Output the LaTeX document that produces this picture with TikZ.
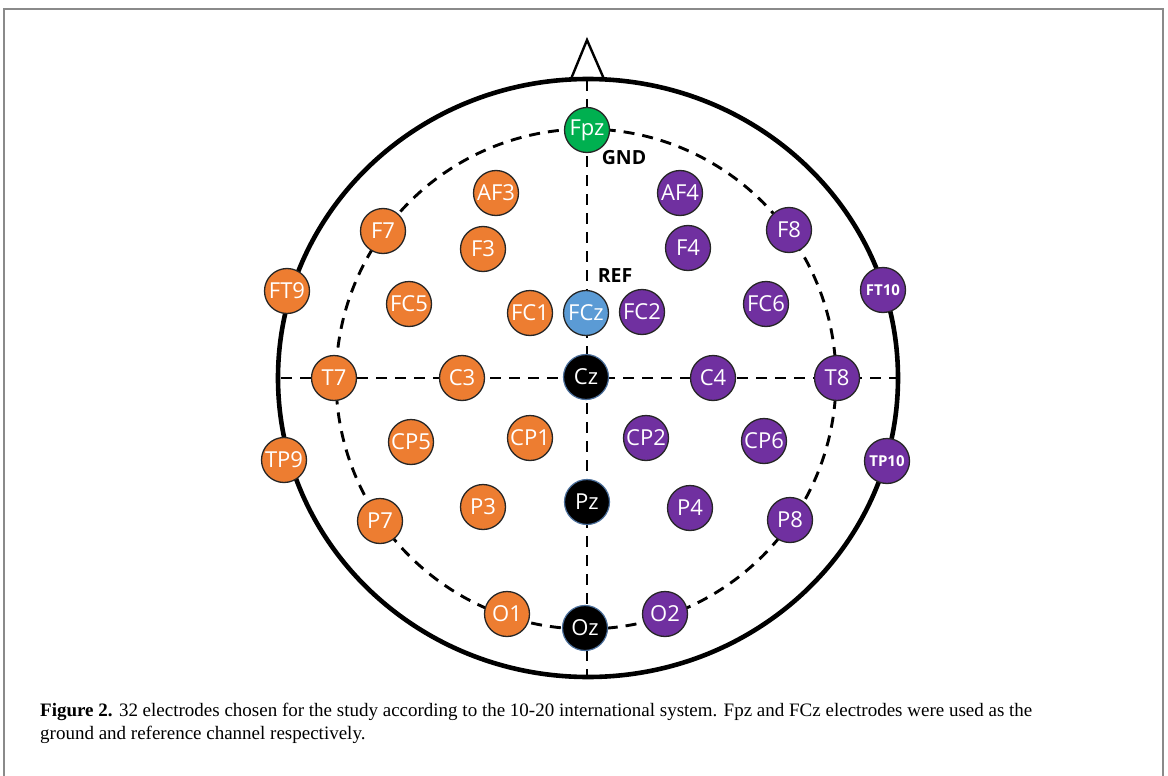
\documentclass[tikz,border=0pt]{standalone}
\usepackage{fontspec}
\setmainfont{Liberation Serif}
\newfontfamily\elfont{Open Sans}
\definecolor{eorange}{HTML}{ED7D31}
\definecolor{epurple}{HTML}{7030A0}
\definecolor{egreen}{HTML}{00B050}
\definecolor{eblue}{HTML}{5B9BD5}
\definecolor{eglow}{HTML}{4A6E9A}
\definecolor{framegray}{HTML}{8A8A8A}
\begin{document}
\begin{tikzpicture}[x=1pt,y=-1pt,
  el/.style={circle, draw=black!85, line width=1.3pt, minimum size=45pt, inner sep=0pt,
    text=white, font=\elfont\fontsize{22}{22}\selectfont},
  lo/.style={el, fill=eorange},
  rp/.style={el, fill=epurple},
  mz/.style={el, fill=black, draw=eglow, line width=1.2pt},
  edgeel/.style={font=\elfont\bfseries\fontsize{15}{15}\selectfont},
  dashline/.style={line width=2.9pt, dash pattern=on 11pt off 8pt},
  tag/.style={font=\elfont\bfseries\fontsize{19.5}{20}\selectfont, text=black, inner sep=0pt},
  captxt/.style={anchor=base west, inner sep=0pt, font=\fontsize{19}{22}\selectfont}
]
\useasboundingbox (0,0) rectangle (1168,776);
% frame
\draw[framegray, line width=2pt] (4,776) -- (4,9) -- (1163,9) -- (1163,776);

% reference points
\coordinate (ctr) at (588,378);
\coordinate (inner) at (586,379);
\coordinate (vtop) at (587,80);
\coordinate (vbot) at (587,676);
\coordinate (hl) at (281,378);
\coordinate (hr) at (901,378);
\coordinate (noseL) at (571,79);
\coordinate (noseT) at (587,40);
\coordinate (noseR) at (604,79);

% nose and head
\draw[line width=2.4pt, line join=miter] (noseL) -- (noseT) -- (noseR);
\draw[line width=4.6pt] (ctr) ellipse [x radius=310, y radius=299];

% dashed guides
\draw[dashline] (inner) circle [radius=250];
\draw[dashline] (vtop) -- (vbot);
\draw[dashline] (hl) -- (hr);

% midline electrodes
\node[el, fill=egreen] (Fpz) at (587,130) {Fpz};
\node[el, fill=eblue] (FCz) at (586,313) {FCz};
\node[mz] (Cz) at (586,377) {Cz};
\node[mz] (Pz) at (587,502) {Pz};
\node[mz] (Oz) at (585,628) {Oz};

% left hemisphere
\node[lo] (AF3) at (496,193) {AF3};
\node[lo] (F7) at (383,231) {F7};
\node[lo] (F3) at (483,249) {F3};
\node[lo] (FT9) at (287,291) {FT9};
\node[lo] (FC5) at (409,304) {FC5};
\node[lo] (FC1) at (530,313) {FC1};
\node[lo] (T7) at (334,378) {T7};
\node[lo] (C3) at (462,378) {C3};
\node[lo] (TP9) at (284,460) {TP9};
\node[lo] (CP5) at (411,442) {CP5};
\node[lo] (CP1) at (530,438) {CP1};
\node[lo] (P7) at (380,521) {P7};
\node[lo] (P3) at (483,507) {P3};
\node[lo] (O1) at (507,614) {O1};

% right hemisphere
\node[rp] (AF4) at (680,193) {AF4};
\node[rp] (F8) at (789,230) {F8};
\node[rp] (F4) at (688,248) {F4};
\node[rp, edgeel] (FT10) at (883,290) {FT10};
\node[rp] (FC6) at (766,304) {FC6};
\node[rp] (FC2) at (642,312) {FC2};
\node[rp] (C4) at (713,378) {C4};
\node[rp] (T8) at (837,378) {T8};
\node[rp, edgeel] (TP10) at (887,461) {TP10};
\node[rp] (CP2) at (646,438) {CP2};
\node[rp] (CP6) at (764,441) {CP6};
\node[rp] (P4) at (690,508) {P4};
\node[rp] (P8) at (790,520) {P8};
\node[rp] (O2) at (665,614) {O2};

% labels
\node[tag] (GND) at (624,158) {GND};
\node[tag] (REF) at (615,276) {REF};

% caption
\node[captxt] (cap1) at (40,716) {\textbf{Figure 2.} 32 electrodes chosen for the study according to the 10-20 international system. Fpz and FCz electrodes were used as the};
\node[captxt] (cap2) at (40,739) {ground and reference channel respectively.};
\end{tikzpicture}
\end{document}
